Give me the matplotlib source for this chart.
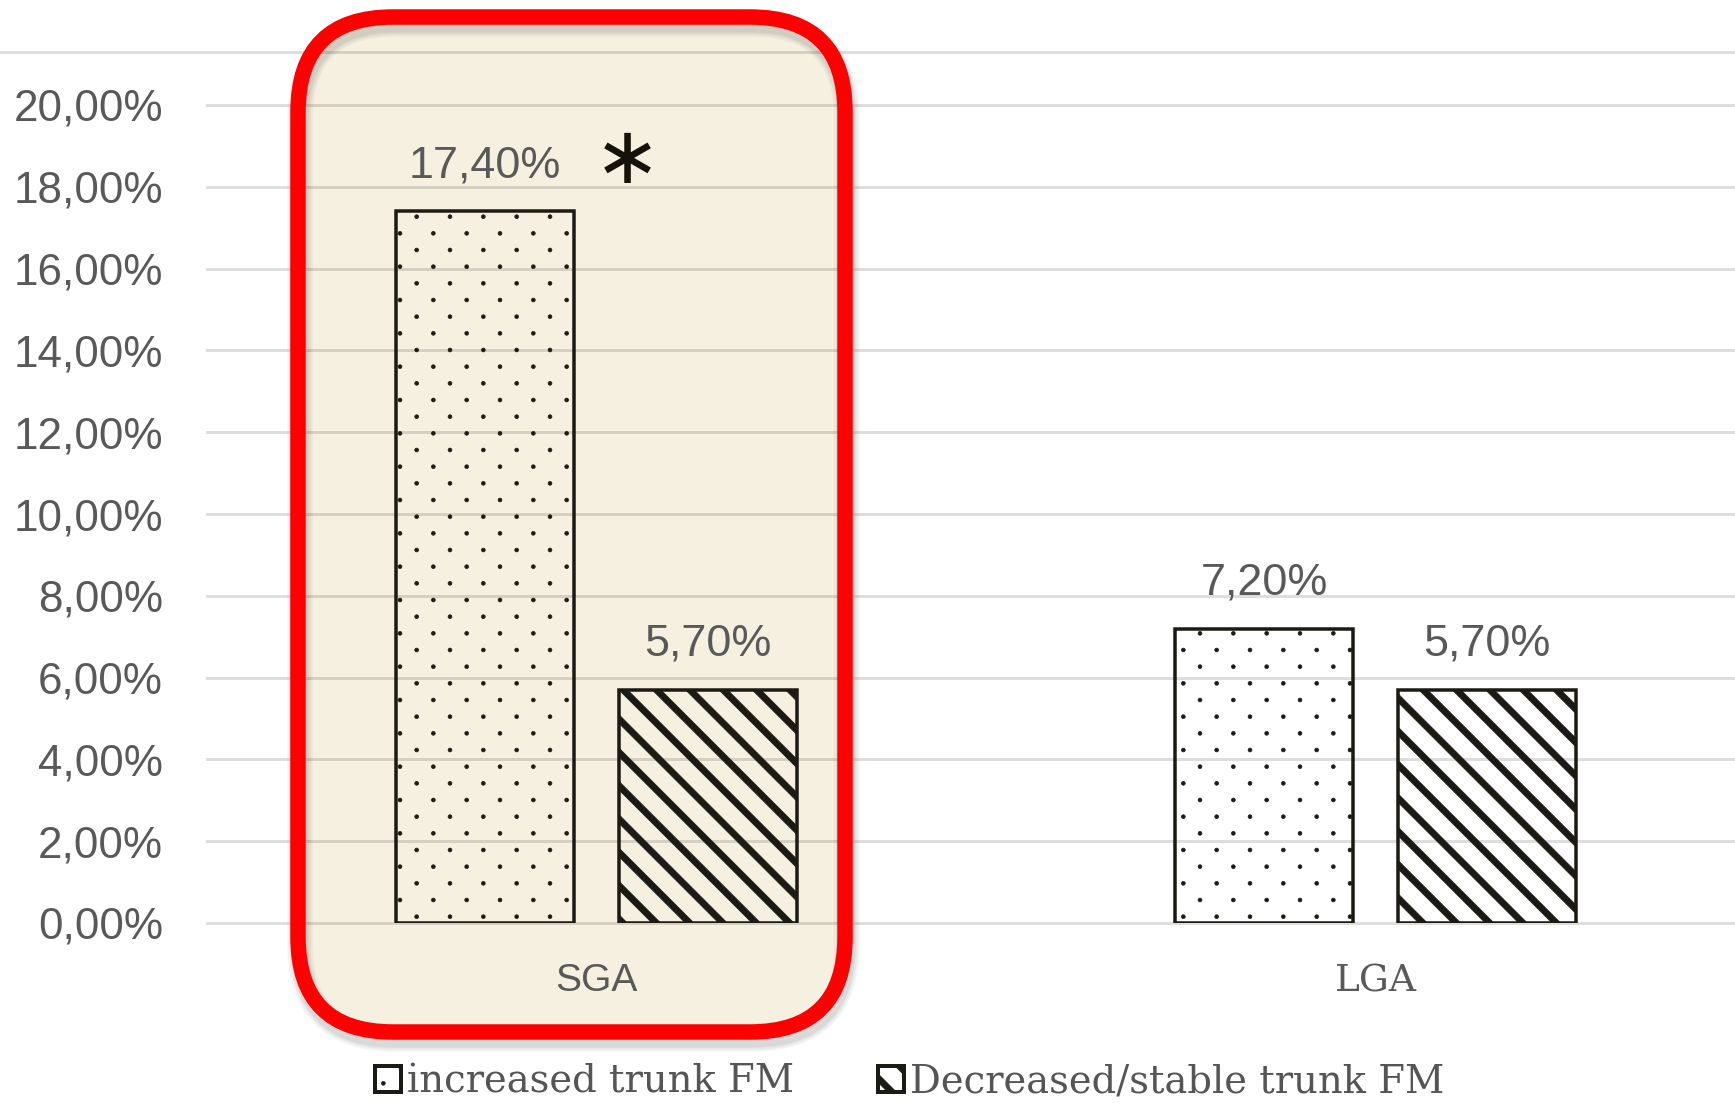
import numpy as np
import matplotlib
matplotlib.use("Agg")
import matplotlib.pyplot as plt
import matplotlib.hatch as mhatch
from matplotlib.path import Path
from matplotlib.patches import FancyBboxPatch
from matplotlib.lines import Line2D
from matplotlib.transforms import IdentityTransform

# ---- data -------------------------------------------------------------
categories = ["SGA", "LGA"]
increased = [17.4, 7.2]          # % with increased trunk FM
decreased = [5.7, 5.7]           # % with decreased/stable trunk FM
series_labels = ["increased trunk FM", "Decreased/stable trunk FM"]
y_ticks = [0, 2, 4, 6, 8, 10, 12, 14, 16, 18, 20]

# ---- geometry helpers -----------------------------------------------
DPI = 100
W, H = 1735, 1107


def pt(px):
    """Convert a pixel length to points at the figure dpi."""
    return px * 72.0 / DPI


def pct(v):
    return f"{v:.2f}".replace(".", ",") + "%"


# ---- custom hatch patterns ------------------------------------------
class StaggeredDots(mhatch.HatchPatternBase):
    """'.' : small filled dots, 3 per row, 6 staggered rows per hatch tile."""
    cols_per_tile = 3
    rows_per_tile = 6
    radius = 0.019

    def __init__(self, hatch, density):
        n = hatch.count(".")
        self.cols = self.cols_per_tile * n
        self.rows = self.rows_per_tile * n
        circle = Path.unit_circle()
        self.shape_vertices = circle.vertices
        self.shape_codes = circle.codes
        self.num_shapes = 0
        if n:
            for r in range(self.rows + 1):
                self.num_shapes += self.cols + 1 if r % 2 == 0 else self.cols
        self.num_vertices = self.num_shapes * len(self.shape_vertices)

    def set_vertices_and_codes(self, vertices, codes):
        dx = 1.0 / self.cols
        dy = 1.0 / self.rows
        shape = self.shape_vertices * self.radius
        vparts, cparts = [], []
        for r in range(self.rows + 1):
            if r % 2 == 0:
                xs = np.linspace(0, 1, self.cols + 1)
            else:
                xs = np.linspace(dx / 2, 1 - dx / 2, self.cols)
            for xp in xs:
                vparts.append(shape + [xp, r * dy])
                cparts.append(self.shape_codes)
        np.concatenate(vparts, out=vertices)
        np.concatenate(cparts, out=codes)


class BoldBackStripes(mhatch.HatchPatternBase):
    """'\\' : solid diagonal stripes drawn as filled bands, 3 per hatch tile."""
    per_tile = 3
    half_width = 0.031   # half stripe thickness, perpendicular, in tile units

    def __init__(self, hatch, density):
        n = hatch.count("\\")
        self.n = self.per_tile * n
        self.centres = (np.arange(-1, 2 * self.n + 2) / self.n) if n else []
        self.num_vertices = 5 * len(self.centres)

    def set_vertices_and_codes(self, vertices, codes):
        d = self.half_width * np.sqrt(2)
        for i, c in enumerate(self.centres):
            c1, c2 = c - d, c + d
            vertices[5 * i:5 * i + 5] = [(-1, c1 + 1), (2, c1 - 2), (2, c2 - 2),
                                         (-1, c2 + 1), (-1, c1 + 1)]
            codes[5 * i:5 * i + 5] = [Path.MOVETO, Path.LINETO, Path.LINETO,
                                      Path.LINETO, Path.CLOSEPOLY]


mhatch._hatch_types = [
    StaggeredDots if t is mhatch.SmallFilledCircles
    else BoldBackStripes if t is mhatch.SouthEastHatch
    else t
    for t in mhatch._hatch_types
]
plt.rcParams["hatch.linewidth"] = 0.5

# ---- figure -----------------------------------------------------------
TEXT = "#595959"
GRID_ALPHA = 0.13
EDGE = "#1c1a14"

fig = plt.figure(figsize=(W / DPI, H / DPI), dpi=DPI)
fig.patch.set_facecolor("white")

# highlighted SGA panel: cream fill behind the axes, red rounded border on top
bx0, by0, bx1, by1 = 298, 75, 845, 1090
box_kw = dict(boxstyle="round,pad=0,rounding_size=95", transform=IdentityTransform())
fig.add_artist(FancyBboxPatch((bx0, by0), bx1 - bx0, by1 - by0,
                              facecolor="#F6F0E1", edgecolor="none", zorder=-2, **box_kw))
for spread, alpha in [(10, 0.05), (6, 0.06), (2, 0.08)]:
    fig.add_artist(FancyBboxPatch((bx0 + 2, by0 - 7), bx1 - bx0, by1 - by0,
                                  facecolor="none", edgecolor=(0.2, 0.2, 0.2, alpha),
                                  linewidth=pt(15.5 + spread), zorder=4, **box_kw))
fig.add_artist(FancyBboxPatch((bx0, by0), bx1 - bx0, by1 - by0,
                              facecolor="none", edgecolor="#FF0000",
                              linewidth=pt(15.5), zorder=5, **box_kw))

# chart-area top rule
fig.add_artist(Line2D([0, W], [H - 52, H - 52], transform=IdentityTransform(),
                      color="black", alpha=GRID_ALPHA, linewidth=pt(3), zorder=-1))

ax = fig.add_axes([207 / W, 184 / H, 1558 / W, 818 / H])
ax.set_facecolor("none")
ax.set_xlim(-0.5, 1.5)
ax.set_ylim(0, 20)

x = np.arange(len(categories))
width = 0.2285
off = 0.1431

bars_inc = ax.bar(x - off, increased, width, facecolor="none", edgecolor=EDGE,
                  linewidth=pt(3.5), hatch=".", label=series_labels[0], zorder=3)
bars_dec = ax.bar(x + off, decreased, width, facecolor="none", edgecolor=EDGE,
                  linewidth=pt(3.5), hatch="\\", label=series_labels[1], zorder=3)

# value labels
for bars, vals in [(bars_inc, increased), (bars_dec, decreased)]:
    for p, v in zip(bars, vals):
        ax.annotate(pct(v), xy=(p.get_x() + p.get_width() / 2, v),
                    xytext=(0, pt(34)), textcoords="offset points",
                    ha="center", va="baseline", fontsize=pt(45),
                    fontfamily="Liberation Sans", color=TEXT, zorder=6)

# significance mark next to the SGA increased value
p0 = bars_inc[0]
ax.annotate("\u2217", xy=(p0.get_x() + p0.get_width() / 2, increased[0]),
            xytext=(pt(142), pt(50)), textcoords="offset points",
            ha="center", va="center", fontsize=pt(80),
            fontfamily="DejaVu Sans", color="#15120c", zorder=6)

# axes styling
ax.set_yticks(y_ticks)
ax.set_yticklabels([pct(v) for v in y_ticks], fontsize=pt(44),
                   fontfamily="Liberation Sans", color=TEXT)
ax.yaxis.grid(True, color="black", alpha=GRID_ALPHA, linewidth=pt(3))
ax.set_axisbelow(True)
for s in ax.spines.values():
    s.set_visible(False)
ax.tick_params(axis="y", length=0, pad=pt(44))
ax.tick_params(axis="x", length=0, pad=pt(40))
ax.set_xticks(x)
ax.set_xticklabels(categories, color=TEXT)
for lbl, fam, size in zip(ax.get_xticklabels(),
                          ["Liberation Sans", "DejaVu Serif"], [39, 37.5]):
    lbl.set_fontfamily(fam)
    lbl.set_fontsize(pt(size))
for gl in ax.get_ygridlines():
    gl.set_clip_on(False)

fs = 38.5
leg = ax.legend([bars_inc, bars_dec], series_labels, loc="center",
                bbox_to_anchor=(909.5 / W, 25 / H), bbox_transform=fig.transFigure,
                ncol=2, frameon=False,
                prop=dict(family="DejaVu Serif", size=pt(fs)), labelcolor="#555555",
                handlelength=26 / fs, handleheight=26 / fs, handletextpad=6 / fs,
                columnspacing=84 / fs, borderpad=0, borderaxespad=0)
for h in leg.legend_handles:
    h.set_linewidth(pt(4))

fig.savefig("out.png", dpi=DPI)
